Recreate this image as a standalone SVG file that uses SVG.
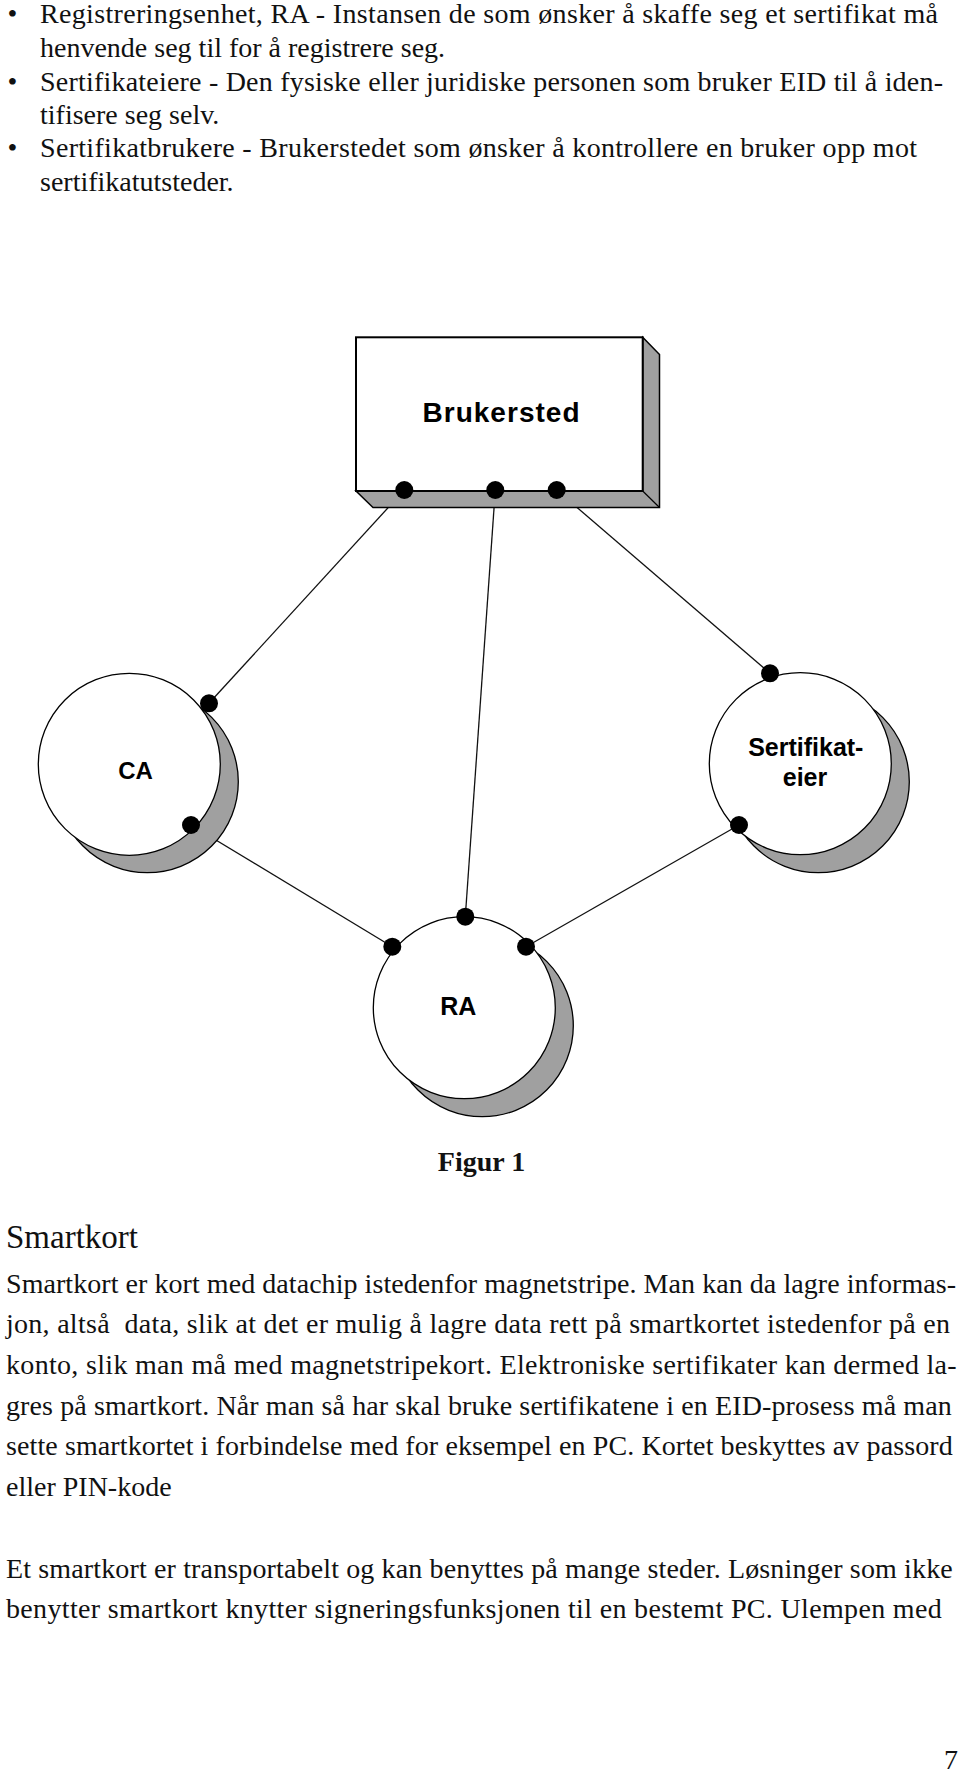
<svg xmlns="http://www.w3.org/2000/svg" width="960" height="1772" viewBox="0 0 960 1772">
<style>
.body{font-family:"Liberation Serif","Times New Roman",serif;font-size:28px;fill:#111}
.head{font-size:33px}
.lbl{font-family:"Liberation Sans",Arial,sans-serif;font-weight:bold;fill:#000;text-anchor:middle}
.edge{stroke:#111;stroke-width:1.3;fill:none}
.dot{fill:#000}
.shadow{fill:#a0a0a0;stroke:#000;stroke-width:1.3}
.face{fill:#fff;stroke:#000;stroke-width:1.3}
</style>
<rect width="960" height="1772" fill="#fff"/>

<g id="intro-text">
<text class="body" x="12.5" y="23" text-anchor="middle">•</text>
<text class="body" x="40" y="23" textLength="898" lengthAdjust="spacing">Registreringsenhet, RA - Instansen de som ønsker å skaffe seg et sertifikat må</text>
<text class="body" x="40" y="56.5">henvende seg til for å registrere seg.</text>
<text class="body" x="12.5" y="90.5" text-anchor="middle">•</text>
<text class="body" x="40" y="90.5" textLength="903" lengthAdjust="spacing">Sertifikateiere - Den fysiske eller juridiske personen som bruker EID til å iden-</text>
<text class="body" x="40" y="123.5">tifisere seg selv.</text>
<text class="body" x="12.5" y="157" text-anchor="middle">•</text>
<text class="body" x="40" y="157" textLength="877" lengthAdjust="spacing">Sertifikatbrukere - Brukerstedet som ønsker å kontrollere en bruker opp mot</text>
<text class="body" x="40" y="191">sertifikatutsteder.</text>
</g>

<g id="connectors">
<line class="edge" x1="404.3" y1="490" x2="209" y2="703.3"/>
<line class="edge" x1="495.3" y1="490" x2="465.3" y2="916.7"/>
<line class="edge" x1="556.7" y1="490" x2="770" y2="673.3"/>
<line class="edge" x1="191" y1="825" x2="392.3" y2="946.7"/>
<line class="edge" x1="739" y1="825" x2="526" y2="946.7"/>
</g>

<g id="brukersted">
<polygon points="642.7,337.3 659.5,354.5 659.5,507.5 373,507.5 356,491 642.7,491" fill="#a0a0a0" stroke="#000" stroke-width="1.5"/>
<line x1="642.7" y1="491" x2="659.5" y2="507.5" stroke="#000" stroke-width="1.2"/>
<rect x="356" y="337.3" width="286.7" height="153.7" fill="#fff" stroke="#000" stroke-width="2"/>
<text class="lbl" x="501" y="421.7" font-size="28" textLength="157" lengthAdjust="spacing">Brukersted</text>
<circle class="dot" cx="404.3" cy="490" r="9"/>
<circle class="dot" cx="495.3" cy="490" r="9"/>
<circle class="dot" cx="556.7" cy="490" r="9"/>
</g>

<g id="ca">
<circle class="shadow" cx="147.3" cy="781.7" r="91"/>
<circle class="face" cx="129.3" cy="764.3" r="91"/>
<text class="lbl" x="135.5" y="779.3" font-size="24">CA</text>
<circle class="dot" cx="209" cy="703.3" r="9"/>
<circle class="dot" cx="191" cy="825" r="9"/>
</g>

<g id="sertifikateier">
<circle class="shadow" cx="818.3" cy="781.7" r="91"/>
<circle class="face" cx="800.3" cy="763.7" r="91"/>
<text class="lbl" x="805.8" y="756" font-size="25">Sertifikat-</text>
<text class="lbl" x="805" y="786" font-size="25">eier</text>
<circle class="dot" cx="770" cy="673.3" r="9"/>
<circle class="dot" cx="739" cy="825" r="9"/>
</g>

<g id="ra">
<circle class="shadow" cx="482.3" cy="1025.7" r="91"/>
<circle class="face" cx="464.3" cy="1007.7" r="91"/>
<text class="lbl" x="458.3" y="1015" font-size="25">RA</text>
<circle class="dot" cx="465.3" cy="916.7" r="9"/>
<circle class="dot" cx="392.3" cy="946.7" r="9"/>
<circle class="dot" cx="526" cy="946.7" r="9"/>
</g>

<g id="body-text">
<text class="body" x="437.8" y="1170.7" font-weight="bold">Figur 1</text>
<text class="body head" x="6" y="1248.3">Smartkort</text>
<text class="body" x="6" y="1293.3" textLength="950" lengthAdjust="spacing">Smartkort er kort med datachip istedenfor magnetstripe. Man kan da lagre informas-</text>
<text class="body" x="6" y="1333.3" textLength="944" lengthAdjust="spacing">jon, altså&#160; data, slik at det er mulig å lagre data rett på smartkortet istedenfor på en</text>
<text class="body" x="6" y="1374.3" textLength="950.7" lengthAdjust="spacing">konto, slik man må med magnetstripekort. Elektroniske sertifikater kan dermed la-</text>
<text class="body" x="6" y="1415" textLength="945.7" lengthAdjust="spacing">gres på smartkort. Når man så har skal bruke sertifikatene i en EID-prosess må man</text>
<text class="body" x="6" y="1455" textLength="946.7" lengthAdjust="spacing">sette smartkortet i forbindelse med for eksempel en PC. Kortet beskyttes av passord</text>
<text class="body" x="6" y="1496">eller PIN-kode</text>
<text class="body" x="6" y="1578.3" textLength="946.7" lengthAdjust="spacing">Et smartkort er transportabelt og kan benyttes på mange steder. Løsninger som ikke</text>
<text class="body" x="6" y="1618.3" textLength="935.7" lengthAdjust="spacing">benytter smartkort knytter signeringsfunksjonen til en bestemt PC. Ulempen med</text>
<text class="body" x="958" y="1769" text-anchor="end">7</text>
</g>
</svg>
